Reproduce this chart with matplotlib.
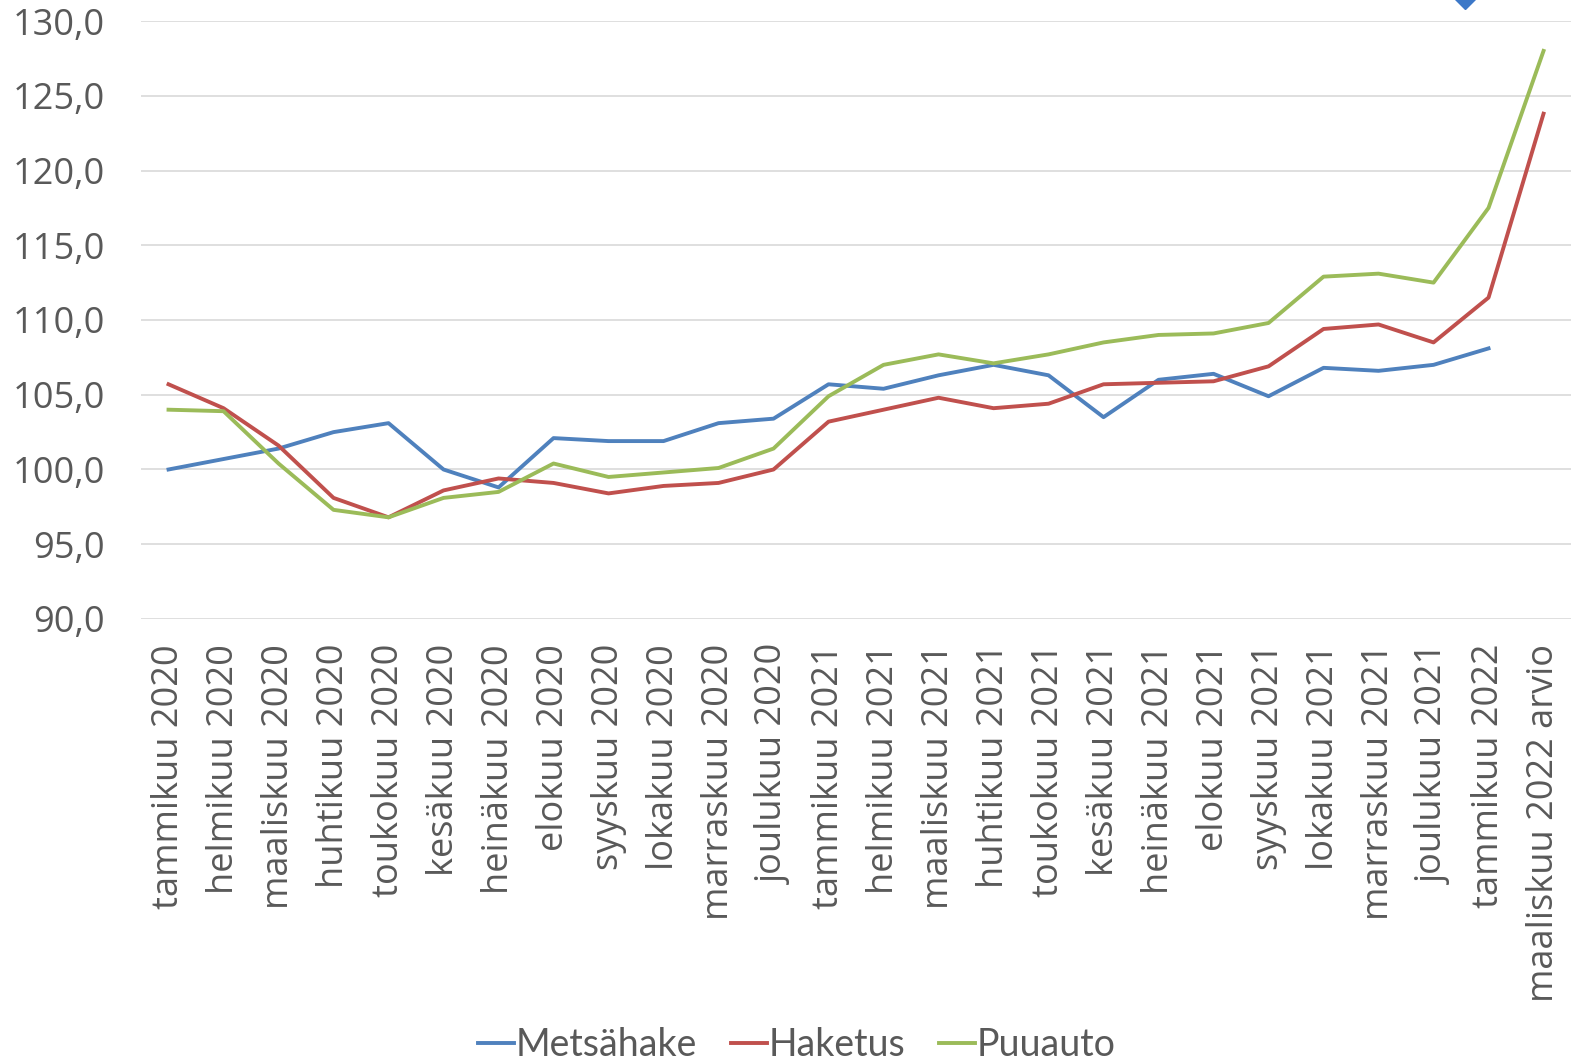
import matplotlib
matplotlib.use("Agg")
import matplotlib.pyplot as plt
import numpy as np
from matplotlib.lines import Line2D
from matplotlib.ticker import FuncFormatter

plt.rcParams["font.family"] = "Open Sans"

months = [
    "tammikuu 2020", "helmikuu 2020", "maaliskuu 2020", "huhtikuu 2020",
    "toukokuu 2020", "kesäkuu 2020", "heinäkuu 2020", "elokuu 2020",
    "syyskuu 2020", "lokakuu 2020", "marraskuu 2020", "joulukuu 2020",
    "tammikuu 2021", "helmikuu 2021", "maaliskuu 2021", "huhtikuu 2021",
    "toukokuu 2021", "kesäkuu 2021", "heinäkuu 2021", "elokuu 2021",
    "syyskuu 2021", "lokakuu 2021", "marraskuu 2021", "joulukuu 2021",
    "tammikuu 2022", "maaliskuu 2022 arvio",
]
metsahake = [100.0, 100.7, 101.4, 102.5, 103.1, 100.0, 98.8, 102.1, 101.9, 101.9,
             103.1, 103.4, 105.7, 105.4, 106.3, 107.0, 106.3, 103.5, 106.0, 106.4,
             104.9, 106.8, 106.6, 107.0, 108.1, np.nan]
haketus = [105.7, 104.1, 101.6, 98.1, 96.8, 98.6, 99.4, 99.1, 98.4, 98.9,
           99.1, 100.0, 103.2, 104.0, 104.8, 104.1, 104.4, 105.7, 105.8, 105.9,
           106.9, 109.4, 109.7, 108.5, 111.5, 123.8]
puuauto = [104.0, 103.9, 100.4, 97.3, 96.8, 98.1, 98.5, 100.4, 99.5, 99.8,
           100.1, 101.4, 104.9, 107.0, 107.7, 107.1, 107.7, 108.5, 109.0, 109.1,
           109.8, 112.9, 113.1, 112.5, 117.5, 128.0]

BLUE = "#4F81BD"
RED = "#C0504D"
GREEN = "#9BBB59"
TXT = "#595959"

fig = plt.figure(figsize=(15.81, 10.61), dpi=100)
ax = fig.add_axes([0.0892, 0.4166, 0.9045, 0.5636])

x = np.arange(len(months))
ax.plot(x, metsahake, color=BLUE, lw=2.8, label="Metsähake")
ax.plot(x, haketus, color=RED, lw=2.8, label="Haketus")
ax.plot(x, puuauto, color=GREEN, lw=2.8, label="Puuauto")

ax.set_xlim(-0.5, len(months) - 0.5)
ax.set_ylim(90, 130)
ax.set_yticks(np.arange(90, 131, 5))
ax.yaxis.set_major_formatter(FuncFormatter(lambda v, p: f"{v:.1f}".replace(".", ",")))
ax.set_xticks(x)
ax.set_xticklabels(months, rotation=90)
ax.tick_params(axis="y", length=0, pad=26, labelsize=26, labelcolor=TXT)
ax.tick_params(axis="x", length=0, pad=18, labelsize=26, labelcolor=TXT)
ax.grid(axis="y", color="#D9D9D9", lw=1.2)
ax.set_axisbelow(True)
for s in ax.spines.values():
    s.set_visible(False)

leg = fig.legend(loc="center", bbox_to_anchor=(0.504, 16 / 1061), ncol=3, frameon=False,
                 handlelength=0.95, handletextpad=0.05, columnspacing=0.9,
                 prop={"family": "Lato", "size": 27})
for t in leg.get_texts():
    t.set_color(TXT)

# cut-off blue diamond at the top edge of the slide
fig.add_artist(Line2D([1465 / 1581], [1.0 + 8 / 1061], marker="D", markersize=17,
                      color="#3C78C8", markeredgecolor="#3C78C8",
                      transform=fig.transFigure))

fig.savefig("out.png", dpi=100, facecolor="white")
